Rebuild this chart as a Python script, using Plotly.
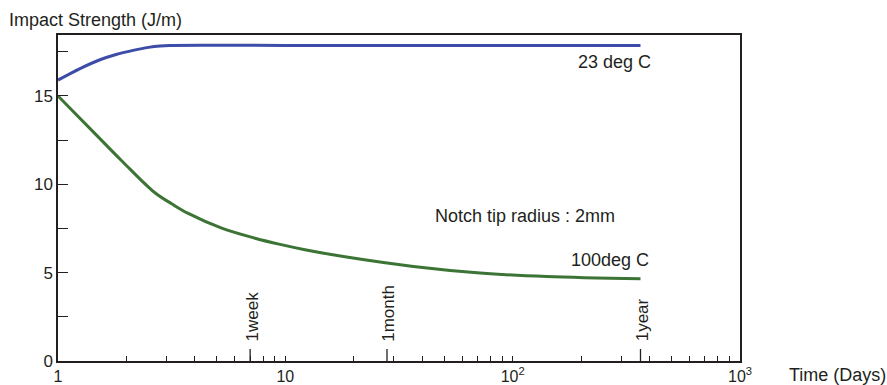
import numpy as np
import plotly.graph_objects as go

# Impact strength (J/m) versus ageing time (days)
days_23c = [1, 1.25, 1.53, 1.8, 2.14, 2.5, 2.81, 3.1, 10, 100, 365]
strength_23c = [15.9, 16.55, 17.05, 17.35, 17.58, 17.75, 17.83, 17.86, 17.86, 17.86, 17.86]

days_100c = [1, 1.36, 1.91, 2.67, 3.16, 3.74, 5.25, 7.36, 9.48, 12.2, 18.6, 36.6, 71.9, 141, 365]
strength_100c = [15.0, 13.25, 11.32, 9.52, 8.9, 8.35, 7.52, 6.95, 6.6, 6.3, 5.88, 5.35, 4.98, 4.78, 4.65]

# Reference periods marked on the time axis
period_days = [7, 28, 365]
period_labels = ["1week", "1month", "1year"]

x_major = [1, 10, 100, 1000]
x_labels = ["1", "10", "10<sup>2</sup>", "10<sup>3</sup>"]
x_minor = [m * 10 ** e for e in range(3) for m in range(2, 10)]
y_major = [0, 5, 10, 15]
y_minor = [2.5, 7.5, 12.5, 17.5]

FONT = "Liberation Sans, Arial, sans-serif"
INK = "#231f20"
BLUE = "#3c4ca8"
GREEN = "#3b7435"

fig = go.Figure()
fig.add_trace(go.Scatter(x=days_23c, y=strength_23c, mode="lines",
                         line=dict(color=BLUE, width=3, shape="spline", smoothing=0.9),
                         hoverinfo="skip"))
fig.add_trace(go.Scatter(x=days_100c, y=strength_100c, mode="lines",
                         line=dict(color=GREEN, width=3, shape="spline", smoothing=1.0),
                         hoverinfo="skip"))

# Longer ticks for week / month / year
for d in period_days:
    fig.add_trace(go.Scatter(x=[d, d], y=[0, 0.68], mode="lines",
                             line=dict(color=INK, width=1.3), hoverinfo="skip"))

annotations = []
for d, lab in zip(period_days, period_labels):
    annotations.append(dict(x=np.log10(d), y=1.0, xref="x", yref="y", text=lab,
                            textangle=-90, showarrow=False, xanchor="center",
                            yanchor="bottom", xshift=2,
                            font=dict(family=FONT, size=17, color=INK)))

annotations += [
    dict(x=-0.075, y=1.046, xref="paper", yref="paper", text="Impact Strength (J/m)",
         showarrow=False, xanchor="left", yanchor="middle",
         font=dict(family=FONT, size=18, color=INK)),
    dict(x=1.069, y=-0.042, xref="paper", yref="paper", text="Time (Days)",
         showarrow=False, xanchor="left", yanchor="middle",
         font=dict(family=FONT, size=18, color=INK)),
    dict(x=(614.5 - 58) / 682, y=(361 - 62.5) / 326, xref="paper", yref="paper",
         text="23 deg C", showarrow=False, xanchor="center", yanchor="middle",
         font=dict(family=FONT, size=18, color=INK)),
    dict(x=(609.5 - 58) / 682, y=(361 - 260) / 326, xref="paper", yref="paper",
         text="100deg C", showarrow=False, xanchor="center", yanchor="middle",
         font=dict(family=FONT, size=18, color=INK)),
    dict(x=(525 - 58) / 682, y=(361 - 216) / 326, xref="paper", yref="paper",
         text="Notch tip radius : 2mm", showarrow=False, xanchor="center", yanchor="middle",
         font=dict(family=FONT, size=18, color=INK)),
]

fig.update_layout(
    width=887, height=385,
    margin=dict(l=58, r=147, t=35, b=24, pad=0),
    paper_bgcolor="white", plot_bgcolor="white",
    showlegend=False,
    annotations=annotations,
    xaxis=dict(type="log", range=[0, 3], tickvals=x_major, ticktext=x_labels,
               tickangle=0, ticks="inside", ticklen=5, tickwidth=1.2, tickcolor=INK,
               ticklabelstandoff=0,
               minor=dict(tickvals=x_minor, ticks="inside", ticklen=5, tickwidth=1.2,
                          tickcolor=INK, showgrid=False),
               showline=True, linecolor=INK, linewidth=1.5, mirror=True,
               showgrid=False, zeroline=False, automargin=False,
               tickfont=dict(family=FONT, size=16, color=INK)),
    yaxis=dict(range=[0, 18.45], tickvals=y_major,
               ticks="inside", ticklen=10, tickwidth=1.2, tickcolor=INK,
               minor=dict(tickvals=y_minor, ticks="inside", ticklen=10, tickwidth=1.2,
                          tickcolor=INK, showgrid=False),
               showline=True, linecolor=INK, linewidth=1.5, mirror=True,
               showgrid=False, zeroline=False, automargin=False,
               tickfont=dict(family=FONT, size=17, color=INK)),
)

fig.write_html("out.html")
